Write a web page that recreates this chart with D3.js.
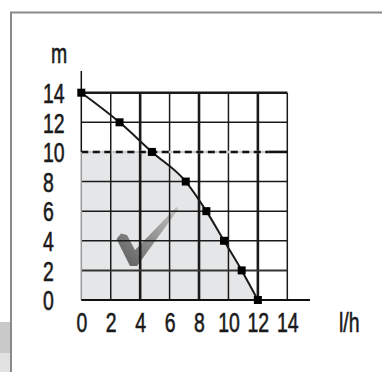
<!DOCTYPE html>
<html>
<head>
<meta charset="utf-8">
<script src="https://cdn.jsdelivr.net/npm/d3@7"></script>
<style>
  body { margin: 0; background: #fff; }
  svg text.lbl { font-family: "Liberation Sans", Arial, sans-serif; font-size: 27px; fill: #1a1a1a; stroke: #1a1a1a; stroke-width: 0.6px; }
</style>
</head>
<body>
<script>
// pump curve: flow (l/h) vs head (m)
const flow = [0, 2.6, 4.8, 7.1, 8.5, 9.7, 10.9, 12];
const head = [14, 12, 10, 8, 6, 4, 2, 0];
const ticks = [0, 2, 4, 6, 8, 10, 12, 14];
const limitHead = 10;
const limitFlowEnd = 12.7;
const thickX = [4, 8, 12];
const thickY = [14, 10];

const width = 382, height = 372;
const narrow = 'scale(0.72,1)';   // fake a condensed face

const svg = d3.select('body').append('svg')
  .attr('width', width)
  .attr('height', height);

// page frame + little tab on the left
svg.append('rect').attr('x', 0).attr('y', 322).attr('width', 10).attr('height', 31).attr('fill', '#c9c9c9');
svg.append('rect').attr('x', 0).attr('y', 353).attr('width', 10).attr('height', 19).attr('fill', '#e2e2e2');
svg.append('path')
  .attr('d', 'M11,372V12.5H382')
  .attr('fill', 'none')
  .attr('stroke', '#8a8a8a')
  .attr('stroke-width', 2);

const x = d3.scaleLinear().domain([0, 14]).range([81.3, 287.3]);
const y = d3.scaleLinear().domain([0, 14]).range([300, 92.7]);

const pts = flow.map((f, i) => [f, head[i]]);

// shaded operating area (under the curve, below the limit)
svg.append('clipPath').attr('id', 'below')
  .append('rect')
  .attr('x', x(0)).attr('y', y(limitHead))
  .attr('width', x(14) - x(0)).attr('height', y(0) - y(limitHead));

svg.append('path')
  .datum(pts)
  .attr('clip-path', 'url(#below)')
  .attr('fill', '#e5e6e7')
  .attr('d', d3.area().x(d => x(d[0])).y0(y(0)).y1(d => y(d[1])).curve(d3.curveMonotoneX));

// check mark
const grad = svg.append('defs').append('linearGradient')
  .attr('id', 'chk').attr('x1', '0').attr('y1', '1').attr('x2', '1').attr('y2', '0');
grad.append('stop').attr('offset', '0').attr('stop-color', '#5a5a5a');
grad.append('stop').attr('offset', '0.45').attr('stop-color', '#8a8a8a');
grad.append('stop').attr('offset', '1').attr('stop-color', '#c4c4c4');
svg.append('path')
  .attr('d', 'M116.5,239L121,233.5L127,235L135,250L176.5,207L178.5,209L140,262L137,266L130,266L128,262Z')
  .attr('fill', 'url(#chk)');

// grid
const grid = svg.append('g').attr('stroke', '#1a1a1a');
ticks.filter(t => t > 0).forEach(t => {
  grid.append('line')
    .attr('x1', x(t)).attr('x2', x(t))
    .attr('y1', y(0)).attr('y2', y(14))
    .attr('stroke-width', thickX.includes(t) ? 2.6 : 1.5);
});
ticks.filter(t => t > 0).forEach(t => {
  if (t === limitHead) return;
  grid.append('line')
    .attr('x1', x(0)).attr('x2', x(14))
    .attr('y1', y(t)).attr('y2', y(t))
    .attr('stroke-width', thickY.includes(t) ? 2.6 : (t === 2 ? 2 : 1.5))
    .attr('stroke', t === 2 ? '#333' : '#1a1a1a');
});

// limit line at 10 m
svg.append('line')
  .attr('x1', x(0)).attr('x2', x(limitFlowEnd))
  .attr('y1', y(limitHead)).attr('y2', y(limitHead))
  .attr('stroke', '#cfcfcf').attr('stroke-width', 2.6);
svg.append('line')
  .attr('x1', x(0)).attr('x2', x(limitFlowEnd))
  .attr('y1', y(limitHead)).attr('y2', y(limitHead))
  .attr('stroke', '#111').attr('stroke-width', 2.6)
  .attr('stroke-dasharray', '7,4.5');
svg.append('line')
  .attr('x1', x(limitFlowEnd)).attr('x2', x(14))
  .attr('y1', y(limitHead)).attr('y2', y(limitHead))
  .attr('stroke', '#111').attr('stroke-width', 2.6);

// axes lines
svg.append('line')
  .attr('x1', x(0)).attr('x2', x(0)).attr('y1', 71).attr('y2', y(limitHead))
  .attr('stroke', '#111').attr('stroke-width', 1.5);
svg.append('line')
  .attr('x1', x(0)).attr('x2', x(0)).attr('y1', y(limitHead)).attr('y2', y(0))
  .attr('stroke', '#999').attr('stroke-width', 1.5);
svg.append('line')
  .attr('x1', x(0)).attr('x2', 310).attr('y1', y(0)).attr('y2', y(0))
  .attr('stroke', '#111').attr('stroke-width', 2);

// curve
svg.append('path')
  .datum(pts)
  .attr('fill', 'none')
  .attr('stroke', '#1a1a1a')
  .attr('stroke-width', 2)
  .attr('d', d3.line().x(d => x(d[0])).y(d => y(d[1])).curve(d3.curveMonotoneX));

svg.selectAll('rect.pt')
  .data(pts)
  .enter()
  .append('rect')
  .attr('class', 'pt')
  .attr('x', d => x(d[0]) - 4)
  .attr('y', d => y(d[1]) - 4)
  .attr('width', 8)
  .attr('height', 8)
  .attr('fill', '#000');

// tick labels
const yAxisG = svg.append('g')
  .attr('transform', 'translate(43,0)')
  .call(d3.axisLeft(y).tickValues(ticks).tickSize(0).tickPadding(0));
yAxisG.select('.domain').remove();
yAxisG.selectAll('text')
  .attr('class', 'lbl')
  .attr('x', 0).attr('dy', '0.36em')
  .attr('text-anchor', 'start')
  .attr('transform', narrow)
  .attr('fill', null);

const xAxisG = svg.append('g')
  .attr('transform', `translate(0,${y(0)})`)
  .call(d3.axisBottom(x).tickValues(ticks).tickSize(0).tickPadding(0));
xAxisG.select('.domain').remove();
xAxisG.selectAll('text')
  .attr('class', 'lbl')
  .attr('y', 32).attr('dy', 0)
  .attr('transform', narrow)
  .attr('fill', null);

svg.append('text')
  .attr('class', 'lbl')
  .attr('transform', 'translate(51,63) ' + narrow)
  .text('m');

svg.append('text')
  .attr('class', 'lbl')
  .attr('transform', 'translate(339,332) ' + narrow)
  .text('l/h');
</script>
</body>
</html>
